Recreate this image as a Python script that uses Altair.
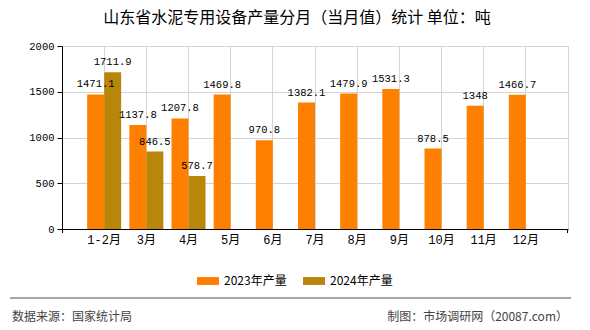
import altair as alt
import pandas as pd

months = ["1-2月", "3月", "4月", "5月", "6月", "7月", "8月", "9月", "10月", "11月", "12月"]
v2023 = [1471.1, 1137.8, 1207.8, 1469.8, 970.8, 1382.1, 1479.9, 1531.3, 878.5, 1348, 1466.7]
months2024 = ["1-2月", "3月", "4月"]
v2024 = [1711.9, 846.5, 578.7]
series = ["2023年产量", "2024年产量"]
colors = ["#FF8000", "#B8860B"]
y_ticks = [0, 500, 1000, 1500, 2000]
title_text = "山东省水泥专用设备产量分月（当月值）统计 单位：吨"
source_text = "数据来源：国家统计局"
credit_text = "制图：市场调研网（20087.com）"

rows = [{"month": m, "series": series[0], "value": v} for m, v in zip(months, v2023)]
rows += [{"month": m, "series": series[1], "value": v} for m, v in zip(months2024, v2024)]
df = pd.DataFrame(rows)
df["label"] = df["value"].map(lambda v: f"{v:g}")

MONO = "Liberation Mono, Noto Sans CJK SC"
CJK = "Noto Sans CJK SC"

x_enc = alt.X(
    "month:N", sort=months,
    scale=alt.Scale(paddingInner=0, paddingOuter=0.5),
    axis=alt.Axis(title=None, labelAngle=0, ticks=False, domainColor="black",
                  grid=True, gridColor="#d4d4d4", labelPadding=5,
                  labelFont=MONO, labelFontSize=12, labelColor="black"),
)
xo_enc = alt.XOffset("series:N", sort=series,
                     scale=alt.Scale(paddingInner=0, paddingOuter=0.24))
y_enc = alt.Y(
    "value:Q",
    scale=alt.Scale(domain=[0, 2000], nice=False),
    axis=alt.Axis(title=None, values=y_ticks, format="d", domainColor="black", tickColor="black",
                  tickSize=5, labelPadding=3, gridColor="#d4d4d4",
                  labelFont=MONO, labelFontSize=10.5, labelColor="black"),
)

base = alt.Chart(df)
bars = base.mark_bar().encode(
    x=x_enc, xOffset=xo_enc, y=y_enc,
    color=alt.Color(
        "series:N", sort=series,
        scale=alt.Scale(domain=series, range=colors),
        legend=alt.Legend(
            title=None, orient="none", direction="horizontal",
            legendX=135, legendY=224,
            symbolType="M-1,-0.36L1,-0.36L1,0.36L-1,0.36Z", symbolSize=484,
            symbolStrokeWidth=0, symbolOpacity=1,
            labelFont=CJK, labelFontSize=12, labelColor="black",
            labelOffset=5, columnPadding=16,
        ),
    ),
)
labels = base.mark_text(baseline="bottom", dy=-5, font=MONO, fontSize=10.5, color="black").encode(
    x=x_enc, xOffset=xo_enc, y=y_enc, text="label:N"
)

rule = alt.Chart(pd.DataFrame({"a": [0]})).mark_rule(color="#888888", strokeWidth=1.5).encode(
    x=alt.value(-52), x2=alt.value(509), y=alt.value(252)
)
foot_l = alt.Chart(pd.DataFrame({"t": [source_text]})).mark_text(
    align="left", baseline="middle", font=CJK, fontSize=12, color="#444444"
).encode(text="t:N", x=alt.value(-50), y=alt.value(271))
foot_r = alt.Chart(pd.DataFrame({"t": [credit_text]})).mark_text(
    align="right", baseline="middle", font=CJK, fontSize=12, color="#444444"
).encode(text="t:N", x=alt.value(506), y=alt.value(271))
tick_l = alt.Chart(pd.DataFrame({"a": [0]})).mark_rule(color="black").encode(
    x=alt.value(0.5), y=alt.value(183), y2=alt.value(187)
)
tick_r = alt.Chart(pd.DataFrame({"a": [0]})).mark_rule(color="black").encode(
    x=alt.value(505.5), y=alt.value(183), y2=alt.value(187)
)

chart = alt.layer(bars, labels, rule, foot_l, foot_r, tick_l, tick_r).properties(
    width=506, height=183,
    autosize=alt.AutoSizeParams(type="none"),
    padding={"left": 62, "top": 46, "right": 22, "bottom": 101},
    title=alt.TitleParams(title_text, anchor="middle", dx=-18, offset=15,
                          font=CJK, fontSize=16, fontWeight="normal", color="black"),
    background="white",
).configure_view(stroke="#d4d4d4")

chart.save("out.html", embed_options={"renderer": "svg", "actions": False})
